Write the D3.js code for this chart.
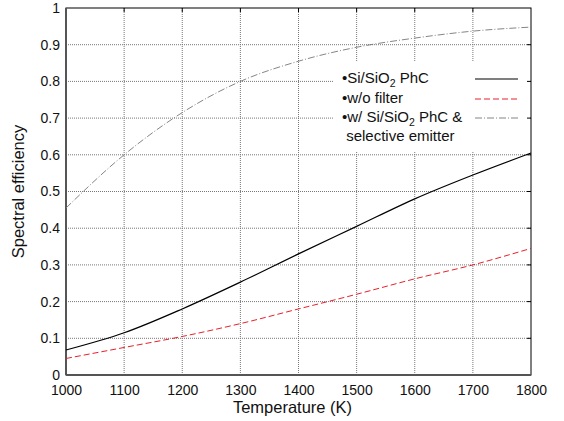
<!DOCTYPE html>
<html>
<head>
<meta charset="utf-8">
<script src="https://cdn.jsdelivr.net/npm/d3@7"></script>
<style>
  body { margin: 0; background: #fff; }
  svg { font-family: "Liberation Sans", Arial, sans-serif; }
</style>
</head>
<body>
<div class="canvas"></div>
<script>
const WIDTH = 564;
const HEIGHT = 421;
const margin = { top: 8, right: 33, bottom: 46, left: 66 };

const graphWidth = WIDTH - margin.left - margin.right;
const graphHeight = HEIGHT - margin.top - margin.bottom;

// data
const temps = [1000, 1100, 1200, 1300, 1400, 1500, 1600, 1700, 1800];
const phc = [0.068, 0.115, 0.18, 0.253, 0.33, 0.405, 0.48, 0.545, 0.605];
const noFilter = [0.045, 0.075, 0.105, 0.14, 0.18, 0.22, 0.262, 0.30, 0.345];
const withEmitter = [0.455, 0.60, 0.715, 0.80, 0.855, 0.893, 0.918, 0.937, 0.948];
const yTicks = [0, 0.1, 0.2, 0.3, 0.4, 0.5, 0.6, 0.7, 0.8, 0.9, 1];

const series = [
  { name: 'phc', values: phc, color: '#000', dash: null, width: 1.2 },
  { name: 'nofilter', values: noFilter, color: '#e8202a', dash: '6,3', width: 1 },
  { name: 'emitter', values: withEmitter, color: '#777', dash: '7,2,1,2', width: 0.9 }
];

const svg = d3.select('.canvas')
  .append('svg')
    .attr('width', WIDTH)
    .attr('height', HEIGHT);

const graphGroup = svg.append('g')
  .attr('transform', `translate(${margin.left},${margin.top})`);

const x = d3.scaleLinear().domain([1000, 1800]).range([0, graphWidth]);
const y = d3.scaleLinear().domain([0, 1]).range([graphHeight, 0]);

// grid lines
graphGroup.append('g')
  .selectAll('line.gx')
  .data(temps.slice(1, -1))
  .enter().append('line')
    .attr('x1', d => x(d)).attr('x2', d => x(d))
    .attr('y1', 0).attr('y2', graphHeight)
    .attr('stroke', '#777').attr('stroke-width', 1)
    .attr('stroke-dasharray', '1,1');

graphGroup.append('g')
  .selectAll('line.gy')
  .data(yTicks.slice(1, -1))
  .enter().append('line')
    .attr('x1', 0).attr('x2', graphWidth)
    .attr('y1', d => y(d)).attr('y2', d => y(d))
    .attr('stroke', '#777').attr('stroke-width', 1)
    .attr('stroke-dasharray', '1,1');

// legend background hides the grid behind it
graphGroup.append('rect')
  .attr('x', 267).attr('y', 54)
  .attr('width', graphWidth - 267 - 1).attr('height', 90)
  .attr('fill', '#fff');

// axes
const xAxis = d3.axisBottom(x).tickValues(temps).tickSize(0).tickPadding(10)
  .tickFormat(d3.format('d'));
const yAxis = d3.axisLeft(y).tickValues(yTicks).tickSize(0).tickPadding(6)
  .tickFormat(d => d === 0 || d === 1 ? d3.format('d')(d) : d3.format('.1f')(d));

const xAxisGroup = graphGroup.append('g')
  .attr('transform', `translate(0,${graphHeight})`)
  .call(xAxis);
const yAxisGroup = graphGroup.append('g').call(yAxis);

[xAxisGroup, yAxisGroup].forEach(g => {
  g.select('.domain').remove();
  g.selectAll('text').attr('font-size', 14).attr('fill', '#111')
    .attr('font-family', '"Liberation Sans", Arial, sans-serif');
});

// small ticks on the right and top edges
graphGroup.append('g')
  .selectAll('line')
  .data(yTicks.slice(1, -1))
  .enter().append('line')
    .attr('x1', graphWidth - 4).attr('x2', graphWidth)
    .attr('y1', d => y(d)).attr('y2', d => y(d))
    .attr('stroke', '#000');
graphGroup.append('g')
  .selectAll('line')
  .data(temps.slice(1, -1))
  .enter().append('line')
    .attr('x1', d => x(d)).attr('x2', d => x(d))
    .attr('y1', 0).attr('y2', 4)
    .attr('stroke', '#000');

// frame
graphGroup.append('rect')
  .attr('width', graphWidth).attr('height', graphHeight)
  .attr('fill', 'none').attr('stroke', '#000').attr('stroke-width', 1);
graphGroup.append('line')
  .attr('x1', 0).attr('x2', 0).attr('y1', 0).attr('y2', graphHeight)
  .attr('stroke', '#555').attr('stroke-width', 2);
graphGroup.append('line')
  .attr('x1', 0).attr('x2', graphWidth).attr('y1', graphHeight).attr('y2', graphHeight)
  .attr('stroke', '#555').attr('stroke-width', 2);

// curves
const line = d3.line()
  .x((d, i) => x(temps[i]))
  .y(d => y(d))
  .curve(d3.curveMonotoneX);

graphGroup.selectAll('path.series')
  .data(series)
  .enter().append('path')
    .attr('class', 'series')
    .attr('d', d => line(d.values))
    .attr('fill', 'none')
    .attr('stroke', d => d.color)
    .attr('stroke-width', d => d.width)
    .attr('stroke-dasharray', d => d.dash);

// legend
const legend = svg.append('g').attr('font-size', 15).attr('fill', '#111');
const rows = [
  { y: 83, parts: [['•Si/SiO', 0], ['2', 1], [' PhC', 0]], s: series[0] },
  { y: 103, parts: [['•w/o filter', 0]], s: series[1] },
  { y: 122, parts: [['•w/ Si/SiO', 0], ['2', 1], [' PhC &', 0]], s: series[2] },
  { y: 141, parts: [['\u00a0selective emitter', 0]], s: null }
];
rows.forEach(r => {
  const t = legend.append('text').attr('x', 342).attr('y', r.y);
  r.parts.forEach(p => {
    const ts = t.append('tspan').text(p[0]);
    if (p[1]) ts.attr('font-size', 10.5).attr('dy', 4);
    else if (t.selectAll('tspan').size() > 1) ts.attr('dy', -4);
  });
  if (r.s) {
    legend.append('line')
      .attr('x1', 475).attr('x2', 518)
      .attr('y1', r.y - 4).attr('y2', r.y - 4)
      .attr('stroke', r.s.color)
      .attr('stroke-width', r.s.width)
      .attr('stroke-dasharray', r.s.dash);
  }
});

// axis titles
svg.append('text')
  .attr('x', margin.left + graphWidth / 2 - 6).attr('y', 413)
  .attr('text-anchor', 'middle').attr('font-size', 16.5).attr('fill', '#111')
  .text('Temperature (K)');
svg.append('text')
  .attr('transform', `translate(24,${margin.top + graphHeight / 2}) rotate(-90)`)
  .attr('text-anchor', 'middle').attr('font-size', 16.5).attr('fill', '#111')
  .text('Spectral efficiency');
</script>
</body>
</html>
